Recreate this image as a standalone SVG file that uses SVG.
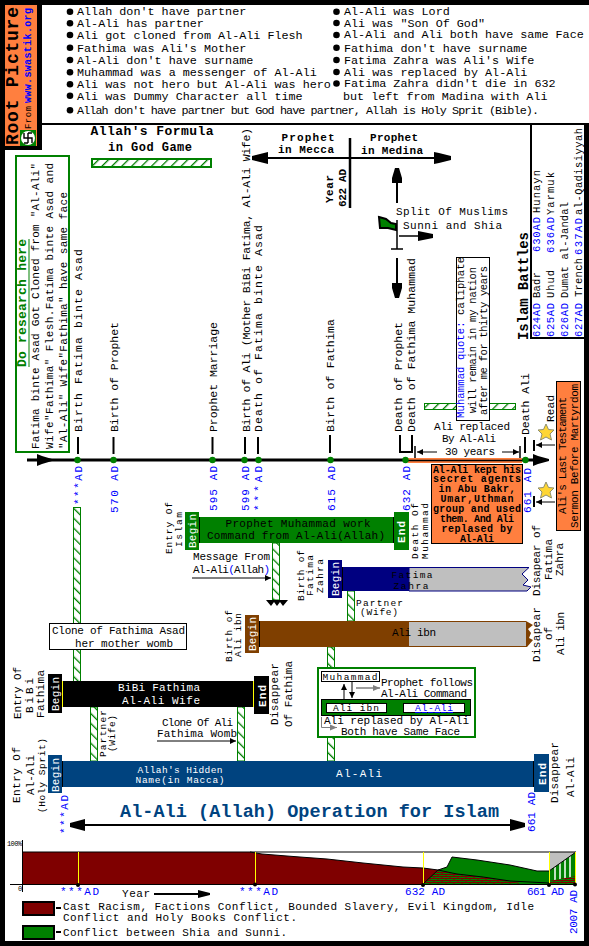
<svg xmlns="http://www.w3.org/2000/svg" width="589" height="946" viewBox="0 0 589 946">
<style>
text{font-family:"Liberation Mono","DejaVu Sans Mono",monospace;font-size:11px;fill:#000}
.t{font-size:11.75px}
.l{font-size:11.5px}
.n{font-size:9.5px}
.o{font-size:10px;font-weight:bold}
.q{font-size:10.5px}
.b{font-weight:bold}
.w{fill:#fff}
.bl{fill:#00f}
.c{text-anchor:middle}
.g{fill:#008000}
.ln{stroke:#000;fill:none}
.h1{fill:url(#hf);stroke:#008000}
.h2{fill:url(#hb);stroke:#008000}
.arr{marker-end:url(#sa)}
.gra{stroke:#7f7f7f;fill:none;marker-end:url(#ga)}
</style>
<defs>
<pattern id="hf" width="7" height="7" patternUnits="userSpaceOnUse" patternTransform="rotate(45)"><rect width="7" height="7" fill="#fff"/><rect width="1.3" height="7" fill="#008000"/></pattern>
<pattern id="hb" width="7" height="7" patternUnits="userSpaceOnUse" patternTransform="rotate(-45)"><rect width="7" height="7" fill="#fff"/><rect width="1.3" height="7" fill="#008000"/></pattern>
<pattern id="br" width="8" height="4" patternUnits="userSpaceOnUse"><rect width="8" height="4" fill="#008000"/><path d="M0 .5H8M0 2.5H8M2 .5V2.5M6 2.5V4" stroke="#7f0000" fill="none"/></pattern>
<marker id="sa" markerUnits="userSpaceOnUse" markerWidth="8" markerHeight="8" refX="6" refY="4" orient="auto"><polygon points="0,1 6,4 0,7"/></marker>
<marker id="ga" markerUnits="userSpaceOnUse" markerWidth="8" markerHeight="8" refX="7" refY="4" orient="auto"><polygon points="0,1 7,4 0,7" fill="#7f7f7f"/></marker>
</defs>
<rect width="589" height="946" fill="#000"/>
<rect x="5" y="125" width="579" height="816" fill="#fff"/>
<rect x="42" y="5" width="547" height="118" fill="#fff"/>
<rect x="5" y="125" width="37" height="25" fill="#000"/>

<g id="logo">
<rect x="5" y="5" width="32" height="141" fill="#ff7f3f"/>
<text class="b" transform="translate(18,145) rotate(-90)" style="font-size:18px" textLength="138">Root Picture</text>
<text transform="translate(31,129) rotate(-90)" style="font-size:9px" textLength="23">From</text>
<text class="b bl" transform="translate(31,103) rotate(-90)" style="font-size:10px" textLength="95">www.swastik.org</text>
<rect x="20" y="130" width="16" height="16" fill="#008000"/>
<circle cx="28" cy="138" r="7" fill="#fff"/>
<path d="M24 133V138H32V143M28 133V143M24 143H28M28 133H32" stroke="#000" stroke-width="1.4" fill="none"/>
</g>

<g id="notes">
<g fill="#000">
<circle cx="70" cy="11.7" r="3.3"/><circle cx="70" cy="23.3" r="3.3"/><circle cx="70" cy="35" r="3.3"/><circle cx="70" cy="47.7" r="3.3"/><circle cx="70" cy="60" r="3.3"/><circle cx="70" cy="72.3" r="3.3"/><circle cx="70" cy="84.3" r="3.3"/><circle cx="70" cy="95.7" r="3.3"/><circle cx="70" cy="110.3" r="3.3"/>
<circle cx="336.5" cy="11.7" r="3.3"/><circle cx="336.5" cy="23" r="3.3"/><circle cx="336.5" cy="35" r="3.3"/><circle cx="336.5" cy="47.7" r="3.3"/><circle cx="336.5" cy="60" r="3.3"/><circle cx="336.5" cy="72" r="3.3"/><circle cx="336.5" cy="83.5" r="3.3"/>
</g>
<text class="t" x="77" y="15.3">Allah don't have partner</text>
<text class="t" x="77" y="27">Al-Ali has partner</text>
<text class="t" x="77" y="38.7">Ali got cloned from Al-Ali Flesh</text>
<text class="t" x="77" y="51.5">Fathima was Ali's Mother</text>
<text class="t" x="77" y="63.5">Al-Ali don't have surname</text>
<text class="t" x="77" y="76">Muhammad was a messenger of Al-Ali</text>
<text class="t" x="77" y="88">Ali was not hero but Al-Ali was hero</text>
<text class="t" x="77" y="99.5">Ali was Dummy Character all time</text>
<text class="t" x="77" y="114" textLength="462">Allah don't have partner but God have partner, Allah is Holy Sprit (Bible).</text>
<text class="t" x="344" y="15.3">Al-Ali was Lord</text>
<text class="t" x="344" y="26.5">Ali was "Son Of God"</text>
<text class="t" x="344" y="38.3">Al-Ali and Ali both have same Face</text>
<text class="t" x="344" y="51.5">Fathima don't have surname</text>
<text class="t" x="344" y="63.5">Fatima Zahra was Ali's Wife</text>
<text class="t" x="344" y="76">Ali was replaced by Al-Ali</text>
<text class="t" x="344" y="87">Fatima Zahra didn't die in 632</text>
<text class="t" x="343" y="99.5">but left from Madina with Ali</text>
</g>

<g id="research">
<rect x="16" y="156" width="53" height="296" fill="#fff" stroke="#008000" stroke-width="2"/>
<text class="b g" transform="translate(26,367) rotate(-90)" style="font-size:13px" textLength="128">Do research here</text>
<path d="M29 239V367" stroke="#008000"/>
<text transform="translate(39,449) rotate(-90)" textLength="286">Fatima binte Asad Got Cloned from "Al-Ali"</text>
<text transform="translate(53,449) rotate(-90)" textLength="286">Wife"Fathima" Flesh.Fatima binte Asad and</text>
<text transform="translate(67,449) rotate(-90)" textLength="257">"Al-Ali" Wife"Fathima" have same face</text>
</g>

<g id="formula">
<text class="b c" x="152" y="135" style="font-size:13px" textLength="123">Allah's Formula</text>
<text class="b c" x="150" y="151" style="font-size:12px" textLength="84">in God Game</text>
<rect class="h1" x="92" y="159" width="119" height="8" stroke-width="2"/>
</g>

<g id="connectors">
<path d="M27 460H535" stroke="#000" stroke-width="3"/>
<polygon points="37,454 42,456 52,459 52,461 42,464 37,466"/>
<polygon points="533,454 538,456 549,459 549,461 538,464 533,466"/>
<rect x="408" y="458" width="114" height="5" fill="#ff7f3f"/>
<path d="M408 460.5H522" stroke="#000" stroke-width="1.5"/>
<path d="M78 437V454M113.500 437V454M212.500 437V454M245 437V454M258 437V454M330 435V453M525 437V453" stroke="#000" stroke-width="2" fill="none"/>
<path d="M400 435V452H412V435" stroke="#000" stroke-width="2" fill="none"/>
<path d="M415 446V458M520 446V458" stroke="#000" stroke-width="1.500"/>
<path d="M437 452H417" class="ln arr"/><path d="M502 452H519" class="ln arr"/>
<path d="M350 138V208" stroke="#000" stroke-width="2.500"/>
<path d="M266 158H436" stroke="#000" stroke-width="2"/>
<polygon points="451,156 439,153 434,152 434,164 439,163 451,160"/>
<polygon points="252,156 264,153 268,152 268,164 264,163 252,160"/>
<path d="M397 203V182" stroke="#000" stroke-width="2"/>
<polygon points="395,168 399,168 402,178 402,183 392,183 392,178"/>
<path d="M397 220V249M391 249H403" stroke="#000" stroke-width="1.500" fill="none"/>
<path d="M399 236H420" stroke="#000" stroke-width="1.500"/>
<polygon points="433,234 433,238 423,240 418,241 418,231 423,232"/>
<path d="M397 258V285" stroke="#000" stroke-width="2"/>
<polygon points="395,298 399,298 402,288 402,283 392,283 392,288"/>
<path d="M534 440V451M534 496V507" stroke="#000" stroke-width="2" fill="none"/>
<path d="M555 445H536" class="ln arr"/><path d="M555 502H536" class="ln arr"/>
<rect class="h1" x="424.500" y="403.500" width="91" height="6"/>
<rect class="h2" x="73.500" y="507.500" width="7" height="174"/>
<rect class="h2" x="272.500" y="543" width="7" height="57"/>
<polygon points="266,600 288,600 283,606 280,602 277,606 274,602 271,606"/>
<path d="M192 578H271" class="ln arr"/>
<rect class="h2" x="347.500" y="591" width="7" height="30"/>
<rect class="h2" x="327.500" y="647" width="7" height="114"/>
<rect class="h2" x="90.500" y="707" width="7" height="54"/>
<rect class="h2" x="237.500" y="707" width="7" height="54"/>
<path d="M157 741H236" class="ln arr"/>
<path d="M85 825H510" stroke="#000" stroke-width="2"/>
<polygon points="70,823 85,819 85,831 70,827"/>
<polygon points="525,823 510,819 510,831 525,827"/>
</g>

<g id="timeline-labels">
<circle class="g" cx="77.500" cy="460" r="3.200"/><circle class="g" cx="113.500" cy="460" r="3.200"/><circle class="g" cx="212.500" cy="460" r="3.200"/><circle class="g" cx="244.500" cy="460" r="3.200"/><circle class="g" cx="258.500" cy="460" r="3.200"/><circle class="g" cx="330.500" cy="460" r="3.200"/><circle class="g" cx="405.500" cy="460" r="3.200"/><circle class="g" cx="525.500" cy="460" r="3.200"/>
<text class="l" transform="translate(82,432) rotate(-90)" textLength="183">Birth Fatima binte Asad</text>
<text class="l" transform="translate(118,432) rotate(-90)" textLength="110">Birth of Prophet</text>
<text class="l" transform="translate(217,432) rotate(-90)" textLength="110">Prophet Marriage</text>
<text class="l" transform="translate(250,432) rotate(-90)" textLength="304">Birth of Ali (Mother BiBi Fatima, Al-Ali Wife)</text>
<text class="l" transform="translate(262,432) rotate(-90)" textLength="207">Death of Fatima binte Asad</text>
<text class="l" transform="translate(334,432) rotate(-90)" textLength="113">Birth of Fathima</text>
<text class="l" transform="translate(402,432) rotate(-90)" textLength="110">Death of Prophet</text>
<text class="l" transform="translate(415,432) rotate(-90)" textLength="174">Death of Fathima Muhammad</text>
<text class="l" transform="translate(529,435) rotate(-90)" textLength="62">Death Ali</text>
<text class="bl" transform="translate(82,505) rotate(-90)" textLength="39">***AD</text>
<text class="bl" transform="translate(118,513) rotate(-90)" textLength="47">570 AD</text>
<text class="bl" transform="translate(217,511) rotate(-90)" textLength="45">595 AD</text>
<text class="bl" transform="translate(249,511) rotate(-90)" textLength="45">599 AD</text>
<text class="bl" transform="translate(262,511) rotate(-90)" textLength="45">***AD</text>
<text class="bl" transform="translate(335,511) rotate(-90)" textLength="45">615 AD</text>
<text class="bl" transform="translate(410,511) rotate(-90)" textLength="45">632 AD</text>
<text class="bl" transform="translate(531,513) rotate(-90)" textLength="45">661 AD</text>
<text class="c" x="472" y="430" textLength="76">Ali replaced</text>
<text class="c" x="469" y="442" textLength="54">By Al-Ali</text>
<text class="c" x="470" y="455" textLength="50">30 years</text>
</g>

<g id="prophet-header">
<text class="b c" x="308" y="141" textLength="53">Prophet</text>
<text class="b c" x="306" y="153" textLength="56">in Mecca</text>
<text class="b c" x="394" y="141" textLength="48">Prophet</text>
<text class="b c" x="392" y="154" textLength="62">in Medina</text>
<text class="b" transform="translate(333,203) rotate(-90)" textLength="28">Year</text>
<text class="b" transform="translate(346,207) rotate(-90)" textLength="38">622 AD</text>
</g>

<g id="split">
<polygon points="379,217 386,219 391,223 396,224 396,230 388,228 380,228" fill="#008000" stroke="#000" stroke-width="2"/>
<text x="396" y="215" textLength="112">Split Of Muslims</text>
<text x="403" y="229" textLength="99">Sunni and Shia</text>
</g>

<g id="quote">
<rect x="456.500" y="257.500" width="33" height="163" fill="#fff" stroke="#000"/>
<text transform="translate(464,418) rotate(-90)" class="q" textLength="161"><tspan class="bl">Muhammad quote:</tspan> caliphate</text>
<text transform="translate(476,413) rotate(-90)" class="q" textLength="146">will remain in my nation</text>
<text transform="translate(487,415) rotate(-90)" class="q" textLength="149">after me for thirty years</text>
</g>

<g id="battles">
<path d="M531 124V338H584" stroke="#000" stroke-width="2" fill="none"/>
<text class="b" transform="translate(528,340) rotate(-90)" style="font-size:14px" textLength="108">Islam Battles</text>
<g>
<text class="q bl" transform="translate(540,337) rotate(-90)" textLength="34">624AD</text>
<text class="q" transform="translate(540,298) rotate(-90)" textLength="26">Badr</text>
<text class="q bl" transform="translate(540,252) rotate(-90)" textLength="35">630AD</text>
<text class="q" transform="translate(540,213) rotate(-90)" textLength="43">Hunayn</text>
<text class="q bl" transform="translate(554,337) rotate(-90)" textLength="34">625AD</text>
<text class="q" transform="translate(554,298) rotate(-90)" textLength="28">Uhud</text>
<text class="q bl" transform="translate(554,253) rotate(-90)" textLength="36">636AD</text>
<text class="q" transform="translate(554,215) rotate(-90)" textLength="43">Yarmuk</text>
<text class="q bl" transform="translate(568,337) rotate(-90)" textLength="34">626AD</text>
<text class="q" transform="translate(568,298) rotate(-90)" textLength="96">Dumat al-Jandal</text>
<text class="q bl" transform="translate(582,337) rotate(-90)" textLength="34">627AD</text>
<text class="q" transform="translate(582,297) rotate(-90)" textLength="39">Trench</text>
<text class="q bl" transform="translate(582,255) rotate(-90)" textLength="37">637AD</text>
<text class="q" transform="translate(582,215) rotate(-90)" textLength="87">al-Qadisiyyah</text>
</g>
</g>

<g id="martyrdom">
<rect x="431.500" y="464.500" width="91" height="79" fill="#ff7f3f" stroke="#000"/>
<text class="c o" x="477" y="472.500" textLength="88">Al-Ali kept his</text>
<text class="c o" x="477" y="482" textLength="88">secret agents</text>
<text class="c o" x="477" y="492" textLength="77">in Abu Bakr,</text>
<text class="c o" x="477" y="502" textLength="73">Umar,Uthman</text>
<text class="c o" x="477" y="512" textLength="88">group and used</text>
<text class="c o" x="477" y="522" textLength="74">them. And Ali</text>
<text class="c o" x="477" y="532" textLength="71">replased by</text>
<text class="c o" x="477" y="542" textLength="34">Al-Ali</text>
<rect x="556.500" y="381.500" width="24" height="149" fill="#ff7f3f" stroke="#000"/>
<text transform="translate(566,514) rotate(-90)" textLength="117">Ali's Last Testament</text>
<text transform="translate(578,528) rotate(-90)" textLength="144">Sermon Before Martyrdom</text>
<text transform="translate(554,422) rotate(-90)" textLength="27">Read</text>
<polygon points="546,424 548.500,429.500 554,430 550,434 551.500,440 546,437 540.500,440 542,434 538,430 543.500,429.500" fill="#ffd633" stroke="#8f8f6f"/>
<polygon points="546,482 548.500,487.500 554,488 550,492 551.500,498 546,495 540.500,498 542,492 538,488 543.500,487.500" fill="#ffd633" stroke="#8f8f6f"/>
</g>

<g id="islam">
<rect x="200" y="517" width="193" height="26" fill="#008000"/>
<rect x="185" y="512" width="14" height="38" fill="#008000"/>
<rect x="394" y="512" width="15" height="38" fill="#008000"/>
<path d="M199.500 517V543M393.500 517V543" stroke="#000"/>
<text class="w" transform="translate(196,548) rotate(-90)" textLength="34">Begin</text>
<text class="w b" transform="translate(405,543) rotate(-90)" textLength="22">End</text>
<text class="c" x="298" y="527" textLength="145">Prophet Muhammad work</text>
<text class="c" x="296" y="539" textLength="178">Command from Al-Ali(Allah)</text>
<text class="n" transform="translate(172,554) rotate(-90)" textLength="52">Entry Of</text>
<text class="n" transform="translate(182,547) rotate(-90)" textLength="35">Islam</text>
<text x="193" y="560" textLength="77">Message From</text>
<text x="193" y="573" textLength="77">Al-Ali<tspan class="bl">(</tspan>Allah<tspan class="bl">)</tspan></text>
<text class="n" transform="translate(418,559) rotate(-90)" textLength="56">Death Of</text>
<text class="n" transform="translate(428,559) rotate(-90)" textLength="56">Muhammad</text>
</g>

<g id="fatima-zahra">
<polygon points="409,567.500 529,567.500 522,574 528,580 523,585 531,587 527,591 409,591" fill="#bfbfbf" stroke="#000080"/>
<rect x="342" y="567" width="67" height="24" fill="#000080"/>
<rect x="328" y="560" width="14" height="38" fill="#000080"/>
<path d="M342.500 567V591" stroke="#000"/>
<text class="w" transform="translate(339,596) rotate(-90)" textLength="34">Begin</text>
<text class="c n" x="412" y="578" textLength="41">Fatima</text>
<text class="c n" x="411" y="589" textLength="35">Zahra</text>
<text class="n" transform="translate(304,601) rotate(-90)" textLength="51">Birth of</text>
<text class="n" transform="translate(313,596) rotate(-90)" textLength="41">Fatima</text>
<text class="n" transform="translate(323,593) rotate(-90)" textLength="34">Zahra</text>
<text transform="translate(540,596) rotate(-90)" textLength="71">Disapear of</text>
<text transform="translate(552,580) rotate(-90)" textLength="41">Fatima</text>
<text transform="translate(563,576) rotate(-90)" textLength="33">Zahra</text>
<text class="n" x="356" y="606" textLength="47">Partner</text>
<text class="n" x="360" y="615" textLength="38">(Wife)</text>
</g>

<g id="ali-ibn">
<polygon points="400,621 526,621 533,625 528,629 531,633 529,638 533,640 527,647 400,647" fill="#7f3f00"/>
<rect x="409" y="622" width="117" height="24" fill="#bfbfbf"/>
<rect x="259" y="621" width="150" height="26" fill="#7f3f00"/>
<rect x="245" y="615" width="14" height="38" fill="#7f3f00"/>
<path d="M259.500 621V647" stroke="#000"/>
<text class="w" transform="translate(256,651) rotate(-90)" textLength="34">Begin</text>
<text class="c" x="414" y="636" textLength="44">Ali ibn</text>
<text class="n" transform="translate(232,662) rotate(-90)" textLength="52">Birth of</text>
<text class="n" transform="translate(241,657) rotate(-90)" textLength="44">Ali ibn</text>
<text transform="translate(540,662) rotate(-90)" textLength="55">Disapear</text>
<text transform="translate(552,640) rotate(-90)" textLength="13">of</text>
<text transform="translate(564,655) rotate(-90)" textLength="43">Ali ibn</text>
</g>

<g id="clone-box">
<rect x="49.500" y="623.500" width="137" height="26" fill="#fff" stroke="#000"/>
<text x="52" y="633.500" textLength="133">Clone of Fathima Asad</text>
<text x="75" y="647" textLength="98">her mother womb</text>
</g>

<g id="bibi-fathima">
<rect x="62" y="681" width="192" height="26" fill="#000"/>
<rect x="48" y="674" width="14" height="39" fill="#000"/>
<rect x="254" y="676" width="15" height="38" fill="#000"/>
<path d="M62.500 681V707M253.500 681V707" stroke="#ff0"/>
<text class="w" transform="translate(59,711) rotate(-90)" textLength="34">Begin</text>
<text class="w b" transform="translate(266,707) rotate(-90)" textLength="22">End</text>
<text class="w c" x="159" y="691" textLength="82">BiBi Fathima</text>
<text class="w c" x="161" y="704" textLength="78">Al-Ali Wife</text>
<text transform="translate(21,719) rotate(-90)" textLength="52">Entry Of</text>
<text transform="translate(33,713) rotate(-90)" textLength="35">BiBi</text>
<text transform="translate(44,718) rotate(-90)" textLength="48">Fathima</text>
<text transform="translate(278,725) rotate(-90)" textLength="62">Disappear</text>
<text transform="translate(292,727) rotate(-90)" textLength="66">Of Fathima</text>
<text class="n" transform="translate(106,757) rotate(-90)" textLength="47">Partner</text>
<text class="n" transform="translate(115,752) rotate(-90)" textLength="37">(Wife)</text>
<text x="162" y="726" textLength="71">Clone Of Ali</text>
<text x="157" y="737" textLength="80">Fathima Womb</text>
</g>

<g id="replaced-box">
<rect x="318" y="668" width="157" height="69" fill="#fff" stroke="#008000" stroke-width="2"/>
<rect x="321.500" y="671.500" width="58" height="10" fill="#fff" stroke="#000"/>
<text class="c n" x="350" y="680" textLength="55">Muhammad</text>
<path d="M344 699V684" class="ln arr"/><path d="M352 682V698" class="ln arr"/>
<path d="M356 688H380" class="gra" stroke-width="1.500"/>
<text x="381" y="686" textLength="92">Prophet follows</text>
<text x="381" y="697" textLength="86">Al-Ali Command</text>
<rect x="321.500" y="699.500" width="149" height="16" fill="#008000" stroke="#000"/>
<rect x="326.500" y="703.500" width="60" height="9" fill="#fff" stroke="#000"/>
<rect x="403.500" y="703.500" width="61" height="9" fill="#fff" stroke="#000"/>
<text class="c n" x="356" y="711" textLength="46">Ali ibn</text>
<text class="c bl n" x="434" y="711" textLength="38" text-decoration="underline">Al-Ali</text>
<text x="324" y="724" textLength="145">Ali replased by Al-Ali</text>
<path d="M321.500 717V727.500H337" class="gra"/>
<text x="341" y="735" textLength="119">Both have Same Face</text>
</g>

<g id="al-ali">
<rect x="62" y="761" width="471" height="26" fill="#00437f"/>
<rect x="48" y="755" width="14" height="38" fill="#00437f"/>
<rect x="534" y="754" width="15" height="38" fill="#00437f"/>
<path d="M62.500 761V787M533.500 761V787" stroke="#000"/>
<text class="w" transform="translate(59,792) rotate(-90)" textLength="34">Begin</text>
<text class="w b" transform="translate(546,785) rotate(-90)" textLength="22">End</text>
<text class="w c n" x="180" y="772.500" textLength="85">Allah's Hidden</text>
<text class="w c n" x="180" y="782.500" textLength="89">Name(in Macca)</text>
<text class="w c" x="359" y="777" textLength="46">Al-Ali</text>
<text transform="translate(20,803) rotate(-90)" textLength="56">Entry Of</text>
<text transform="translate(34,795) rotate(-90)" textLength="40">Al-Ali</text>
<text transform="translate(45,813) rotate(-90)" class="n" textLength="75">(Holy Sprit)</text>
<text transform="translate(558,803) rotate(-90)" textLength="61">Disappear</text>
<text transform="translate(574,797) rotate(-90)" textLength="40">Al-Ali</text>
<text class="bl" transform="translate(68,834) rotate(-90)" textLength="39">***AD</text>
<text class="bl" transform="translate(535,832) rotate(-90)" textLength="40">661 AD</text>
<text class="b" x="120" y="817" style="font-size:18.500px;fill:#00437f" textLength="379">Al-Ali (Allah) Operation for Islam</text>
</g>

<g id="conflict-chart">
<polygon points="22,852 250,852 262,854 287,856 300,857 327,859 363,863 403,867 423,868 438,870 457,874 483,877 510,881 549,883 549,884 22,884" fill="#7f0000"/>
<polygon points="423,884 438,870 447,867 452,857 477,860 510,865 537,871 549,871 549,884" fill="#008000"/>
<polygon points="423,884 438,870 457,874 483,877 510,881 525,884" fill="url(#br)"/>
<polygon points="549,852 576,852 549,871" fill="#bfbfbf"/>
<polygon points="549,871 576,852 576,884 549,884" fill="#008000"/>
<path d="M555 867V884M560 863V884M565 860V884M570 856V884" stroke="#fff" stroke-width="1.500"/>
<polygon points="549,881 576,876 576,884 549,884" fill="url(#br)"/>
<path d="M423 884L438 870 447 867 452 857 477 860 510 865 537 871 549 871 576 852" stroke="#000" fill="none"/>
<path d="M22 852H576M250 852L262 854 287 856 300 857 327 859 363 863 403 867 423 868 438 870 457 874 483 877 510 881 549 883" stroke="#000" fill="none"/>
<path d="M22.500 840V892M10 884.500H576" stroke="#000" fill="none"/>
<path d="M78.500 852V884M255.500 852V884M423.500 852V884M549.500 852V884M575.500 852V884" stroke="#ff0"/>
<circle cx="78" cy="885" r="2"/><circle cx="255" cy="884.500" r="2"/><circle cx="423" cy="885" r="2"/><circle cx="549" cy="885" r="2"/><circle cx="575" cy="884.500" r="2"/>
<text x="7" y="846" style="font-size:7px" textLength="15">100%</text>
<text x="18" y="891" style="font-size:7px">0</text>
<text class="bl" x="60" y="895" textLength="39">***AD</text>
<text class="bl" x="239" y="895" textLength="39">***AD</text>
<text class="bl" x="405" y="895" textLength="40">632 AD</text>
<text class="bl" x="527" y="895" textLength="37">661 AD</text>
<text class="bl" transform="translate(577,934) rotate(-90)" textLength="44">2007 AD</text>
<text x="122" y="897" textLength="28">Year</text>
<path d="M154 894H204" stroke="#000" stroke-width="2"/>
<polygon points="198,890 210,893 210,895 198,898"/>
</g>

<g id="legend">
<rect x="23" y="902" width="31" height="13" fill="#7f0000" stroke="#000" stroke-width="2"/>
<rect x="23" y="926" width="31" height="13" fill="#008000" stroke="#000" stroke-width="2"/>
<path d="M56 908H61M56 932H61" stroke="#000" stroke-width="2"/>
<text x="63" y="910" textLength="471">Cast Racism, Factions Conflict, Bounded Slavery, Evil Kingdom, Idle</text>
<text x="63" y="921" textLength="234">Conflict and Holy Books Conflict.</text>
<text x="63" y="936" textLength="224">Conflict between Shia and Sunni.</text>
</g>
</svg>
